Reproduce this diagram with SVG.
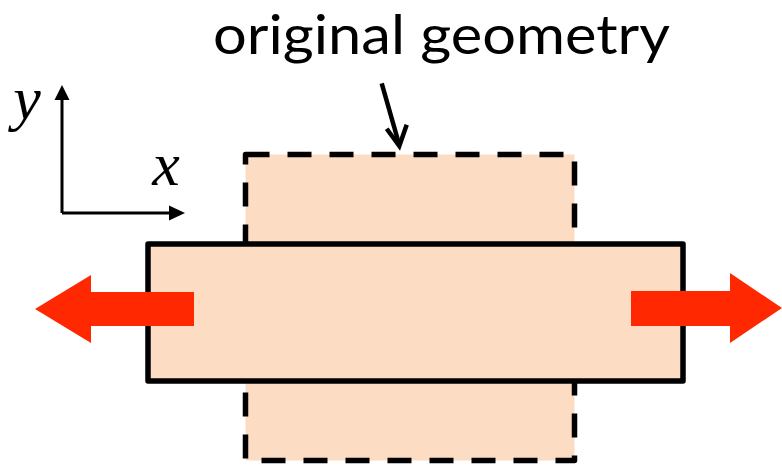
<svg xmlns="http://www.w3.org/2000/svg" width="782" height="466" viewBox="0 0 782 466">
<defs>
<style>
.shape{fill:#FCDCC2;stroke:#000;stroke-width:5.5;stroke-linejoin:round}
.dashed{stroke-dasharray:24 18}
.force{fill:#FF2800;stroke:none}
.ax{fill:none;stroke:#000;stroke-width:3}
.ahead{fill:#000;stroke:none}
.lbl{font-family:"Liberation Serif","Times New Roman",serif;font-style:italic;font-size:62px;fill:#000}
.title{font-family:Lato,"Liberation Sans",sans-serif;font-size:54px;fill:#000}
.ptr{fill:none;stroke:#000;stroke-width:4.5;stroke-linecap:butt;stroke-linejoin:miter}
</style>
</defs>
<rect width="782" height="466" fill="#fff"/>
<g id="original-geometry">
<path class="shape dashed" d="M245.5,154.5 H574.5 V460.5 H245.5 Z"/>
</g>
<g id="deformed-geometry">
<rect class="shape" x="148" y="244" width="535" height="137"/>
</g>
<g id="axes">
<path class="ax" d="M62,213 V98 M62,213 H170"/>
<polygon class="ahead" points="62,85 54.5,100 69.5,100"/>
<polygon class="ahead" points="185,213 169,205.5 169,220.5"/>
<text class="lbl" x="27" y="119" text-anchor="middle">y</text>
<text class="lbl" x="166" y="185" text-anchor="middle">x</text>
</g>
<g id="title">
<text class="title" x="441.5" y="53.5" text-anchor="middle" textLength="457" lengthAdjust="spacingAndGlyphs">original geometry</text>
</g>
<g id="connectors">
<path class="ptr" d="M381.7,83.3 L399.3,145"/>
<path class="ptr" d="M386.7,128.7 L399.3,146 L406.7,124.7"/>
<polygon id="force-left" class="force" points="35,309 91,275 91,292 194,292 194,326 91,326 91,343"/>
<polygon id="force-right" class="force" points="782,308 730,273 730,291 631,291 631,326 730,326 730,343"/>
</g>
</svg>
